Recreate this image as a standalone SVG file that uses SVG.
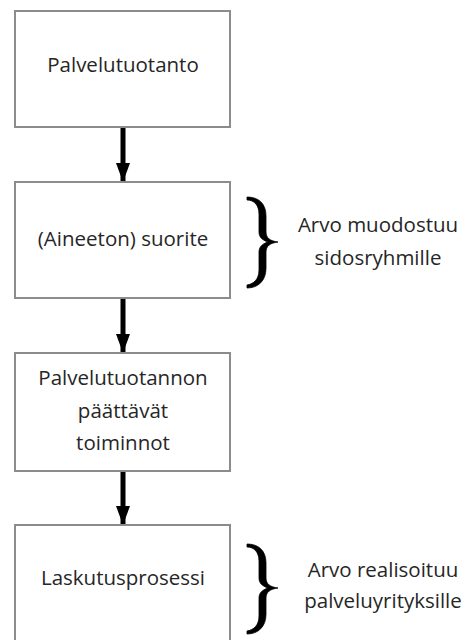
<svg xmlns="http://www.w3.org/2000/svg" width="467" height="640" viewBox="0 0 467 640">
<defs>
<style>
.box{fill:#fff;stroke:#8c8c8c;stroke-width:2}
.t{font-family:"Open Sans","Noto Sans",sans-serif;font-size:20.5px;fill:#262626;text-anchor:middle}
.arr{stroke:#000;stroke-width:5;fill:none}
.brace{fill:#000;stroke:#000;stroke-width:0.8;stroke-linejoin:round}
</style>
<marker id="ah" markerUnits="userSpaceOnUse" markerWidth="20" markerHeight="14" refX="19" refY="7" orient="auto">
<path d="M0,0 L19,7 L0,14 Z" fill="#000"/>
</marker>
</defs>
<rect width="467" height="640" fill="#fff"/>
<g id="connectors">
<line class="arr" x1="123" y1="128" x2="123" y2="182" marker-end="url(#ah)"/>
<line class="arr" x1="123" y1="299" x2="123" y2="353" marker-end="url(#ah)"/>
<line class="arr" x1="123" y1="472" x2="123" y2="525" marker-end="url(#ah)"/>
</g>
<g id="n1">
<rect class="box" x="15" y="11" width="215" height="116"/>
<text class="t" x="123" y="72">Palvelutuotanto</text>
</g>
<g id="n2">
<rect class="box" x="15" y="182" width="215" height="116"/>
<text class="t" x="123" y="246">(Aineeton) suorite</text>
</g>
<g id="n3">
<rect class="box" x="15" y="353" width="215" height="118"/>
<text class="t" x="123" y="385">Palvelutuotannon</text>
<text class="t" x="123" y="418">päättävät</text>
<text class="t" x="123" y="450">toiminnot</text>
</g>
<g id="n4">
<rect class="box" x="15" y="525" width="215" height="125"/>
<text class="t" x="123" y="585">Laskutusprosessi</text>
</g>
<g id="brace1">
<path class="brace" d="M247,197 C258,197 266,203 266,216 L266,232 C266,238 270,241 278,242 C270,243 266,246 266,252 L266,268 C266,281 258,288 247,288 L247,285 C254,284 259,279 259,270 L259,252 C259,247 262,244 268,242 C262,240 259,237 259,232 L259,214 C259,205 254,200 247,200 Z"/>
<text class="t" x="378" y="232">Arvo muodostuu</text>
<text class="t" x="378" y="265">sidosryhmille</text>
</g>
<g id="brace2">
<path class="brace" d="M247,544 C258,544 266,550 266,563 L266,578 C266,584 270,587 278,588 C270,589 266,592 266,598 L266,614 C266,627 258,634 247,634 L247,631 C254,630 259,625 259,616 L259,598 C259,593 262,590 268,588 C262,586 259,583 259,578 L259,561 C259,552 254,547 247,547 Z"/>
<text class="t" x="383" y="577">Arvo realisoituu</text>
<text class="t" x="383" y="608">palveluyrityksille</text>
</g>
</svg>
